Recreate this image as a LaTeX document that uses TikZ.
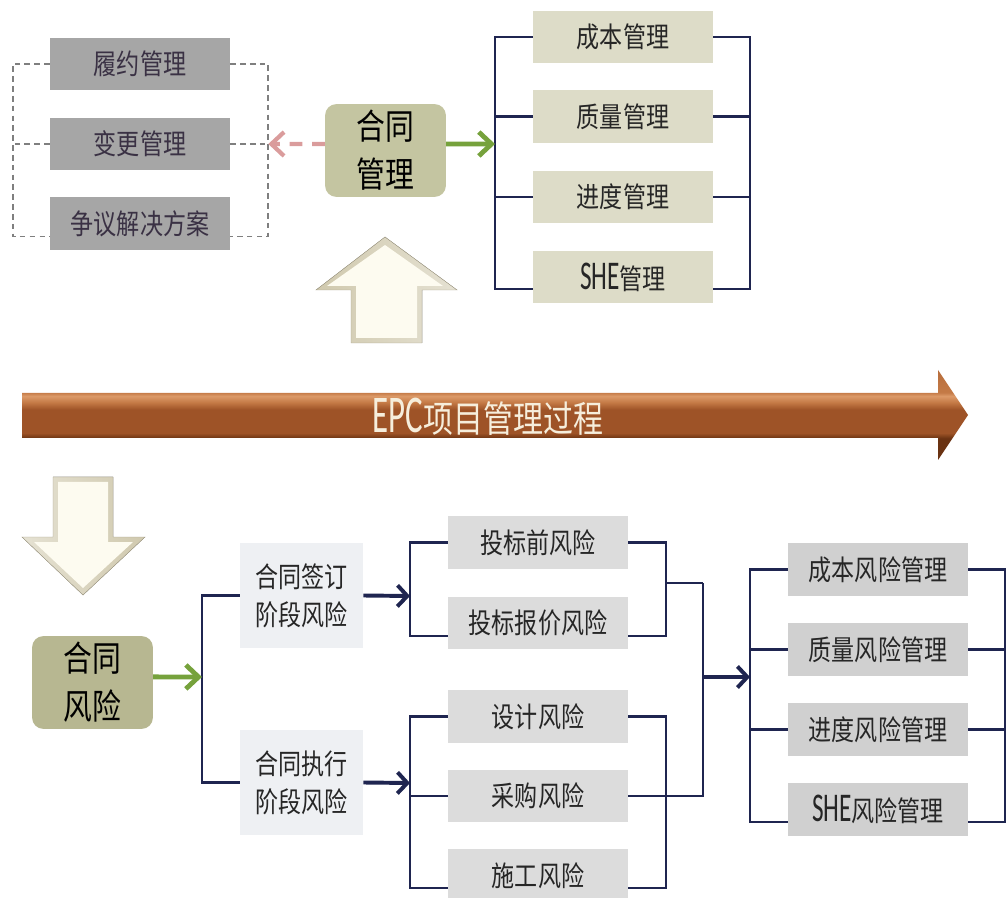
\documentclass[tikz,border=0pt]{standalone}
\usepackage{fontspec}
\setmainfont[FakeStretch=0.82]{Noto Sans CJK SC}
\newfontfamily\latinfont[Scale=1.45,FakeStretch=0.62]{Carlito}
\usetikzlibrary{arrows.meta}

\definecolor{bracketnavy}{HTML}{1F2550}
\definecolor{arrowgreen}{HTML}{76A23C}
\definecolor{arrowpink}{HTML}{DA9C9C}
\definecolor{dashgray}{HTML}{7F7F7F}
\definecolor{dutygray}{HTML}{A6A6A6}
\definecolor{dutytext}{HTML}{3A3144}
\definecolor{contractolive}{HTML}{C4C5A1}
\definecolor{riskolive}{HTML}{B7B791}
\definecolor{mgmtbeige}{HTML}{DDDCC8}
\definecolor{phasepale}{HTML}{EEF0F3}
\definecolor{tenderlight}{HTML}{DCDCDC}
\definecolor{riskgray}{HTML}{D0D0D0}
\definecolor{boxtext}{HTML}{262626}
\definecolor{brownpale}{HTML}{DC9A68}
\definecolor{brownlight}{HTML}{C47A46}
\definecolor{brownmid}{HTML}{9E5327}
\definecolor{browndark}{HTML}{6A3212}
\definecolor{epctext}{HTML}{F6EEDC}
\definecolor{creamlight}{HTML}{FDFBF0}
\definecolor{creamdark}{HTML}{D0C9AE}

\pgfdeclareverticalshading{epcbar}{100bp}{color(0bp)=(browndark); color(37bp)=(browndark); color(40bp)=(brownmid); color(53bp)=(brownmid); color(57bp)=(brownlight); color(60.5bp)=(brownpale); color(62.5bp)=(brownlight); color(100bp)=(brownmid)}

\tikzset{
    itembox/.style={minimum width=4.5cm, minimum height=1.32cm, inner sep=0pt, text=boxtext, font=\fontsize{20}{24}\selectfont},
    dutybox/.style={itembox, fill=dutygray, text=dutytext},
    mgmtbox/.style={itembox, fill=mgmtbeige},
    tenderbox/.style={itembox, fill=tenderlight},
    riskbox/.style={itembox, fill=riskgray},
    bigbox/.style={minimum width=3.02cm, minimum height=2.32cm, inner sep=0pt, rounded corners=8pt, align=center, text=black, font=\fontsize{25}{34}\selectfont},
    phasebox/.style={minimum width=3.08cm, minimum height=2.62cm, inner sep=0pt, fill=phasepale, align=center, text=boxtext, font=\fontsize{20}{27}\selectfont},
    bracket/.style={draw=bracketnavy, line width=1.5pt},
    dashframe/.style={draw=dashgray, line width=1.3pt, dash pattern=on 4pt off 3pt},
    greenarrow/.style={draw=arrowgreen, line width=3.4pt, -{Straight Barb[length=9pt,width=17pt]}},
    pinkarrow/.style={draw=arrowpink, line width=3pt, dash pattern=on 9pt off 7pt, -{Straight Barb[length=9pt,width=17pt]}},
    navyarrow/.style={draw=bracketnavy, line width=2.8pt, -{Straight Barb[length=7pt,width=15pt]}},
}

\begin{document}
\begin{tikzpicture}[x=0.025cm, y=-0.025cm]
    \useasboundingbox (0,0) rectangle (1007,898);

    % Contract management
    \node[bigbox, fill=contractolive] (contract) at (385.5,150.5) {合同\\管理};
    \node[dutybox] (perform) at (140,64) {履约管理};
    \node[dutybox] (change) at (140,144) {变更管理};
    \node[dutybox] (dispute) at (140,223.5) {争议解决方案};
    \node[mgmtbox] (cost) at (623,37) {成本管理};
    \node[mgmtbox] (quality) at (623,116.5) {质量管理};
    \node[mgmtbox] (schedule) at (623,197) {进度管理};
    \node[mgmtbox] (she) at (623,277) {{\latinfont SHE}管理};

    % Dashed frame on the left
    \draw[dashframe] (perform.west) -- ++(-37,0) |- ([yshift=-9.2pt]dispute.west);
    \draw[dashframe] (change.west) -- ++(-37,0);
    \draw[dashframe] (perform.east) -- ++(38,0) |- ([yshift=-9.2pt]dispute.east);
    \draw[dashframe] (change.east) -- ++(38,0) coordinate (dutyjoin);
    \draw[pinkarrow] ([yshift=4.6pt]contract.west) -- (dutyjoin);

    % Bracket on the right
    \coordinate (mgmtjoin) at (495,144);
    \draw[bracket] (cost.west) -- ++(-38,0) |- ([yshift=-8.5pt]she.west);
    \draw[bracket] (quality.west) -- ++(-38,0);
    \draw[bracket] (schedule.west) -- ++(-38,0);
    \draw[bracket] (cost.east) -- ++(37,0) |- ([yshift=-8.5pt]she.east);
    \draw[bracket] (quality.east) -- ++(37,0);
    \draw[bracket] (schedule.east) -- ++(37,0);
    \draw[greenarrow] ([yshift=4.6pt]contract.east) -- (mgmtjoin);

    % Up arrow
    \fill[left color=creamdark, right color=creamdark!55!white] (385,237) -- (457,290) -- (422,290) -- (422,343) -- (351,343) -- (351,290) -- (316,290) -- cycle;
    \fill[creamlight] (385,245) -- (443,286) -- (417,286) -- (417,338) -- (356,338) -- (356,286) -- (327,286) -- cycle;
    \draw[creamdark!80!black, line width=0.3pt] (385,237) -- (457,290) -- (422,290) -- (422,343) -- (351,343) -- (351,290) -- (316,290) -- cycle;

    % Process arrow
    \shade[shading=epcbar] (22,393) -- (938,393) -- (938,370) -- (968,415) -- (938,460) -- (938,438) -- (22,438) -- cycle;
    \node[text=epctext, font=\fontsize{26}{30}\selectfont] (process) at (488,417) {{\latinfont EPC}项目管理过程};

    % Down arrow
    \fill[left color=creamdark!55!white, right color=creamdark] (53,477) -- (113,477) -- (113,537) -- (145,537) -- (83,595) -- (22,537) -- (53,537) -- cycle;
    \fill[creamlight] (58,482) -- (108,482) -- (108,542) -- (133,542) -- (83,588) -- (34,542) -- (58,542) -- cycle;
    \draw[creamdark!80!black, line width=0.3pt] (53,477) -- (113,477) -- (113,537) -- (145,537) -- (83,595) -- (22,537) -- (53,537) -- cycle;

    % Contract risk
    \node[bigbox, fill=riskolive] (risk) at (92.5,682.5) {合同\\风险};
    \node[phasebox] (sign) at (301.5,595.5) {合同签订\\阶段风险};
    \node[phasebox] (execute) at (301.5,782.5) {合同执行\\阶段风险};
    \coordinate (riskjoin) at (202,677);
    \draw[bracket] (sign.west) -- ++(-38,0) |- (execute.west);
    \draw[greenarrow] ([yshift=4pt]risk.east) -- (riskjoin);

    % Risk items
    \node[tenderbox] (prebid) at (538,542.5) {投标前风险};
    \node[tenderbox] (quote) at (538,623) {投标报价风险};
    \node[tenderbox] (design) at (538,716.5) {设计风险};
    \node[tenderbox] (purchase) at (538,796) {采购风险};
    \node[tenderbox] (build) at (538,875.5) {施工风险};
    \coordinate (signjoin) at (410,596);
    \coordinate (executejoin) at (410,783);
    \draw[navyarrow] (sign.east) -- (signjoin);
    \draw[navyarrow] (execute.east) -- (executejoin);
    \draw[bracket] (prebid.west) -- ++(-38,0) |- ([yshift=-9.2pt]quote.west);
    \draw[bracket] (design.west) -- ++(-38,0) |- ([yshift=-8.9pt]build.west);
    \draw[bracket] (purchase.west) -- ++(-38,0);
    \draw[bracket] (prebid.east) -- ++(38,0) |- ([yshift=-9.2pt]quote.east);
    \draw[bracket] (design.east) -- ++(38,0) |- ([yshift=-8.9pt]build.east);

    % Joining the two groups
    \coordinate (tenderjoin) at (703,583);
    \coordinate (purchasejoin) at (703,796);
    \coordinate (riskmgmtjoin) at (750,677);
    \draw[bracket] (tenderjoin) -- ++(-37,0);
    \draw[bracket] (purchase.east) -- (purchasejoin) -- (tenderjoin);
    \draw[navyarrow] (tenderjoin |- riskmgmtjoin) -- (riskmgmtjoin);

    % Risk management
    \node[riskbox] (costrisk) at (878,569.5) {成本风险管理};
    \node[riskbox] (qualityrisk) at (878,649.5) {质量风险管理};
    \node[riskbox] (schedulerisk) at (878,729.5) {进度风险管理};
    \node[riskbox] (sherisk) at (878,809.5) {{\latinfont SHE}风险管理};
    \draw[bracket] (costrisk.west) -- ++(-38,0) |- ([yshift=-8.9pt]sherisk.west);
    \draw[bracket] (qualityrisk.west) -- ++(-38,0);
    \draw[bracket] (schedulerisk.west) -- ++(-38,0);
    \draw[bracket] (costrisk.east) -- ++(37,0) |- ([yshift=-8.9pt]sherisk.east);
    \draw[bracket] (qualityrisk.east) -- ++(37,0);
    \draw[bracket] (schedulerisk.east) -- ++(37,0);
\end{tikzpicture}
\end{document}
